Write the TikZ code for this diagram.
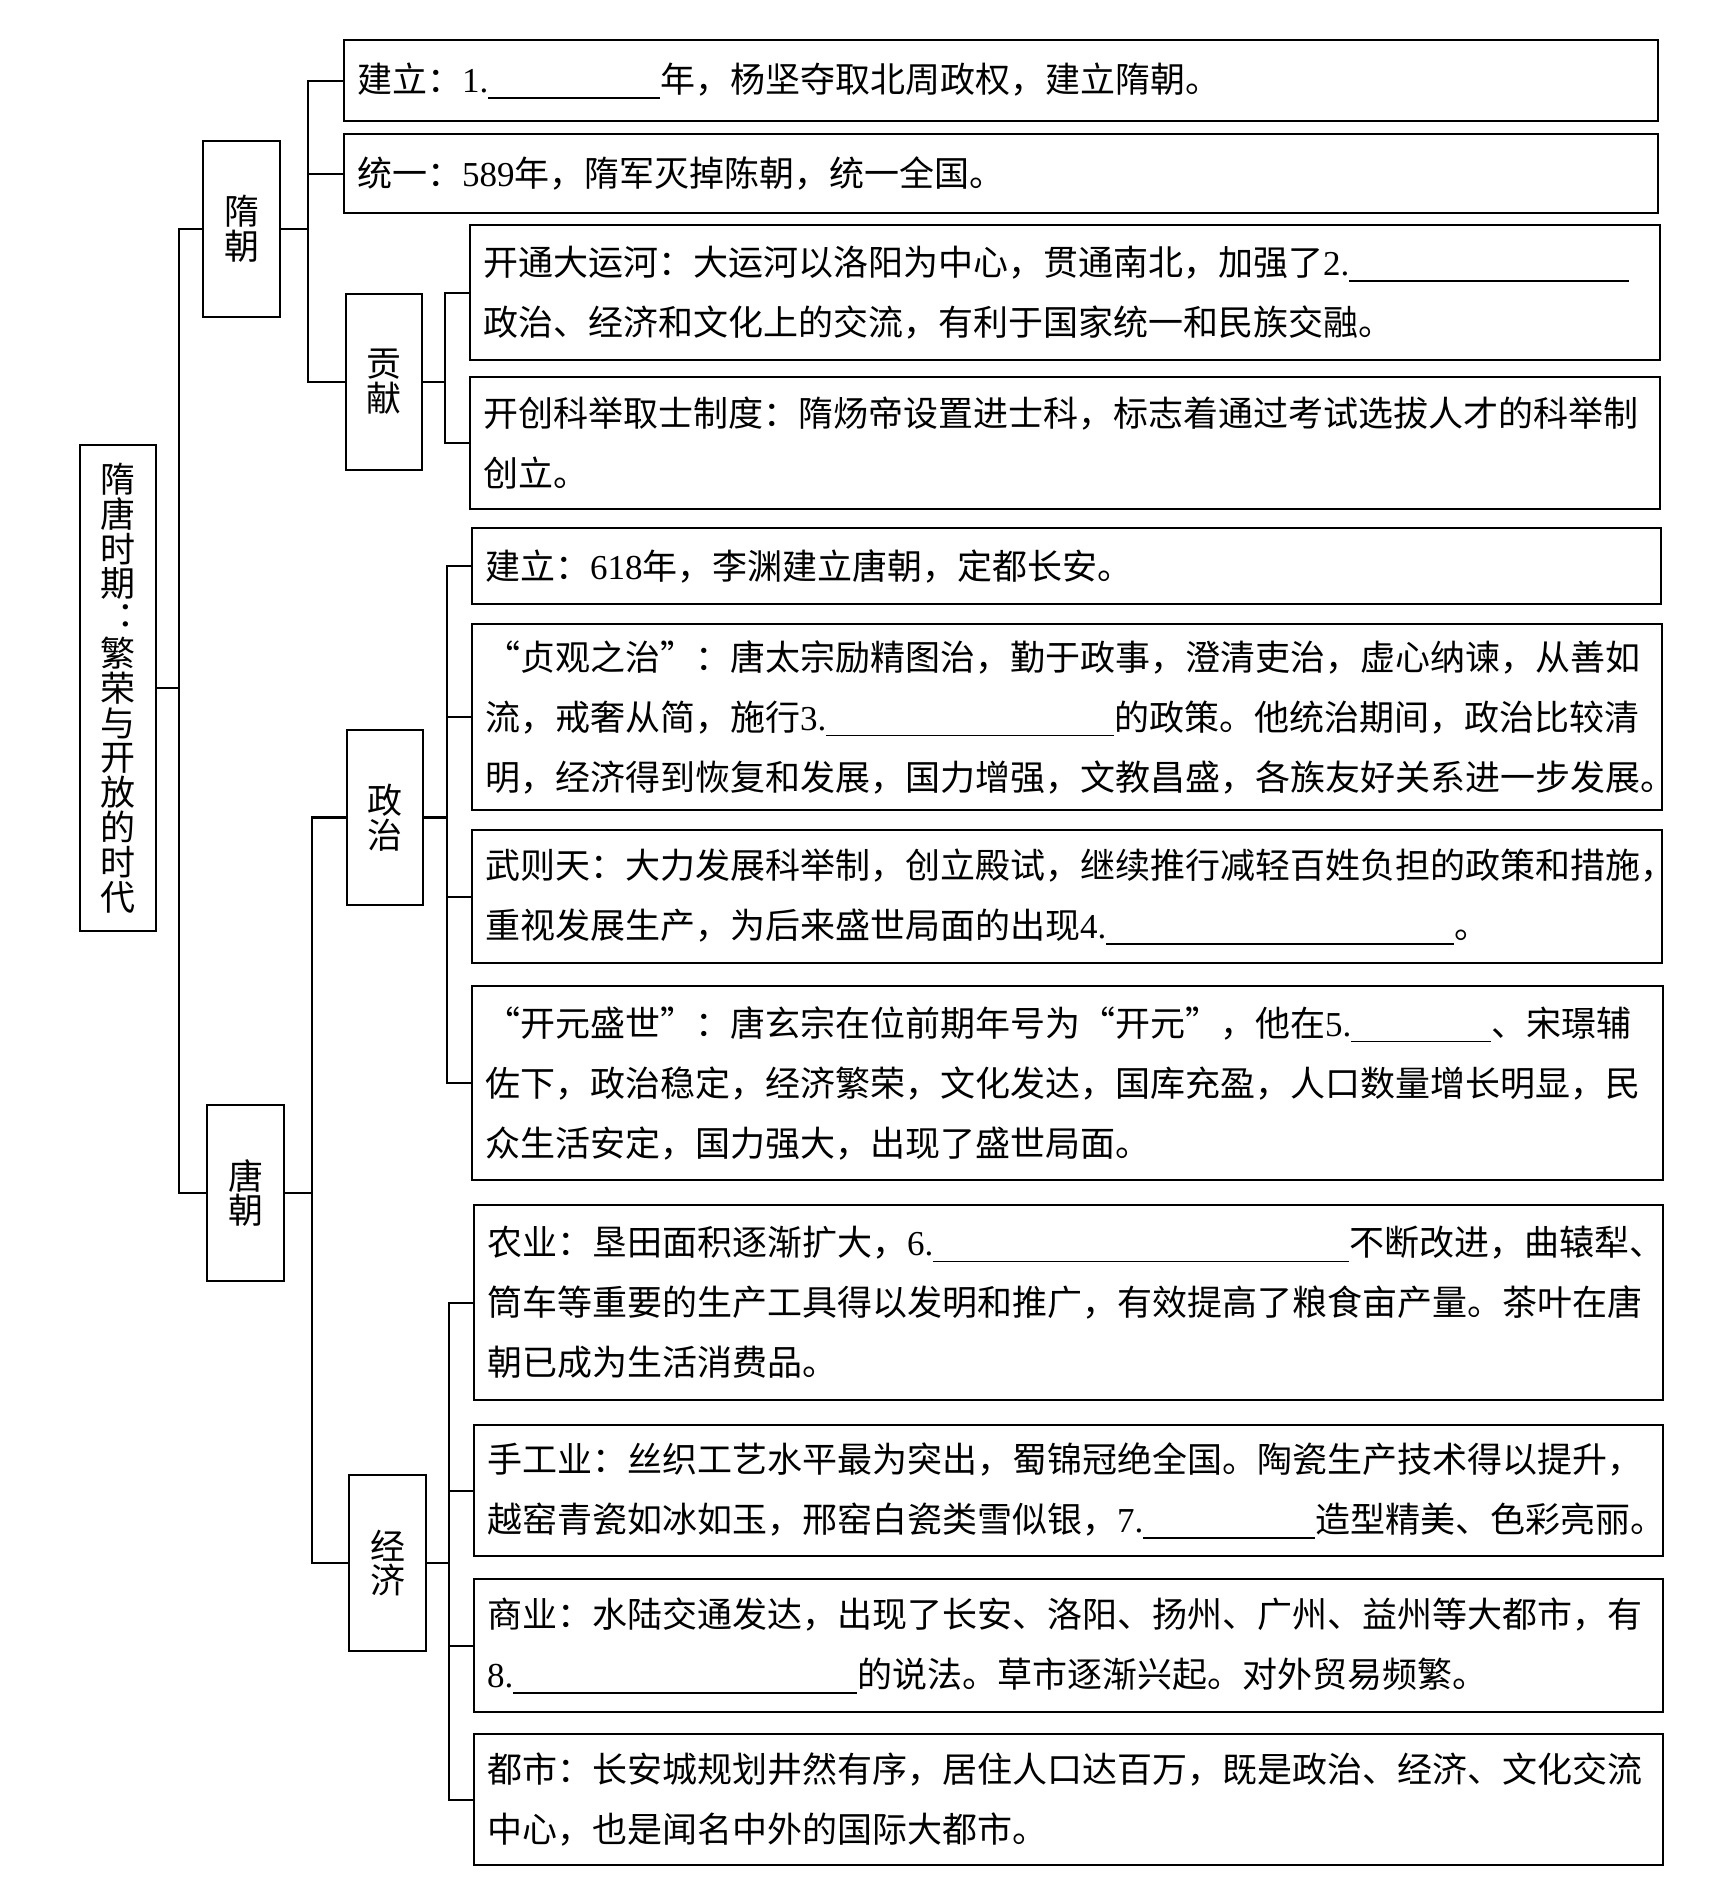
\documentclass[tikz,border=0pt]{standalone}
\usepackage{fontspec}
\newfontfamily\cjk{Noto Sans CJK SC}
\newfontfamily\latf{Liberation Serif}
\newcommand\dg[1]{{\latf #1}}
\newcommand\blank[1]{\rule[-3pt]{#1}{0.7pt}}
\begin{document}
\begin{tikzpicture}[x=0.5pt,y=-0.5pt,
  box/.style={draw, line width=1.2pt, rectangle, inner sep=0pt, align=center,
    font=\cjk\fontsize{17.5}{17.4}\selectfont},
  leaf/.style={draw, line width=1.2pt, rectangle, anchor=north west, inner xsep=6.5pt,
    inner ysep=0pt, align=left, font=\cjk\fontsize{17.5}{30}\selectfont},
  link/.style={line width=1.1pt}]
\useasboundingbox[fill=white] (0,0) rectangle (1713,1895);

% main boxes
\node[box, minimum width=38pt, minimum height=243pt] (root) at (118,688)
  {隋\\唐\\时\\期\\︓\\繁\\荣\\与\\开\\放\\的\\时\\代};
\node[box, minimum width=38.5pt, minimum height=88pt] (sui) at (241.5,229) {隋\\朝};
\node[box, minimum width=38.5pt, minimum height=88pt] (tang) at (245.5,1193) {唐\\朝};
\node[box, minimum width=38pt, minimum height=88pt] (gx) at (384,382) {贡\\献};
\node[box, minimum width=38pt, minimum height=87.5pt] (zz) at (385,817.5) {政\\治};
\node[box, minimum width=38.5pt, minimum height=88pt] (jj) at (387.5,1563) {经\\济};

% leaves
\node[leaf, minimum width=657pt, minimum height=40.5pt, text width=644pt] (b1) at (343,39)
  {建立：\dg{1.}\blank{86pt}年，杨坚夺取北周政权，建立隋朝。};
\node[leaf, minimum width=657pt, minimum height=39.5pt, text width=644pt] (b2) at (343,133)
  {统一：\dg{589}年，隋军灭掉陈朝，统一全国。};
\node[leaf, minimum width=595pt, minimum height=67.5pt, text width=582pt] (b3) at (469,224)
  {开通大运河：大运河以洛阳为中心，贯通南北，加强了\dg{2.}\blank{140pt}\\
   政治、经济和文化上的交流，有利于国家统一和民族交融。};
\node[leaf, minimum width=595pt, minimum height=66pt, text width=582pt] (b4) at (469,376)
  {开创科举取士制度：隋炀帝设置进士科，标志着通过考试选拔人才的科举制\\创立。};
\node[leaf, minimum width=594.5pt, minimum height=38pt, text width=581.5pt] (b5) at (471,527)
  {建立：\dg{618}年，李渊建立唐朝，定都长安。};
\node[leaf, minimum width=595pt, minimum height=93pt, text width=582pt] (b6) at (471,623)
  {“贞观之治”：唐太宗励精图治，勤于政事，澄清吏治，虚心纳谏，从善如\\
   流，戒奢从简，施行\dg{3.}\blank{144pt}的政策。他统治期间，政治比较清\\
   明，经济得到恢复和发展，国力增强，文教昌盛，各族友好关系进一步发展。};
\node[leaf, minimum width=595pt, minimum height=66.5pt, text width=582pt] (b7) at (471,829)
  {武则天：大力发展科举制，创立殿试，继续推行减轻百姓负担的政策和措施，\\
   重视发展生产，为后来盛世局面的出现\dg{4.}\blank{174pt}。};
\node[leaf, minimum width=595.5pt, minimum height=97pt, text width=582.5pt] (b8) at (471,985)
  {“开元盛世”：唐玄宗在位前期年号为“开元”，他在\dg{5.}\blank{70pt}、宋璟辅\\
   佐下，政治稳定，经济繁荣，文化发达，国库充盈，人口数量增长明显，民\\
   众生活安定，国力强大，出现了盛世局面。};
\node[leaf, minimum width=594.5pt, minimum height=97.5pt, text width=581.5pt] (b9) at (473,1204)
  {农业：垦田面积逐渐扩大，\dg{6.}\blank{208pt}不断改进，曲辕犁、\\
   筒车等重要的生产工具得以发明和推广，有效提高了粮食亩产量。茶叶在唐\\
   朝已成为生活消费品。};
\node[leaf, minimum width=594.5pt, minimum height=65.5pt, text width=581.5pt] (b10) at (473,1424)
  {手工业：丝织工艺水平最为突出，蜀锦冠绝全国。陶瓷生产技术得以提升，\\
   越窑青瓷如冰如玉，邢窑白瓷类雪似银，\dg{7.}\blank{86pt}造型精美、色彩亮丽。};
\node[leaf, minimum width=594.5pt, minimum height=66.5pt, text width=581.5pt] (b11) at (473,1578)
  {商业：水陆交通发达，出现了长安、洛阳、扬州、广州、益州等大都市，有\\
   \dg{8.}\blank{172pt}的说法。草市逐渐兴起。对外贸易频繁。};
\node[leaf, minimum width=594.5pt, minimum height=65.5pt, text width=581.5pt] (b12) at (473,1733)
  {都市：长安城规划井然有序，居住人口达百万，既是政治、经济、文化交流\\
   中心，也是闻名中外的国际大都市。};

% trunk x positions
\coordinate (t0) at (179,0);
\coordinate (t1) at (308,0);
\coordinate (t2) at (445,0);
\coordinate (t3) at (312,0);
\coordinate (t4) at (447,0);
\coordinate (t5) at (449,0);

% root
\draw[link] (root.east) -- (root.east -| t0);
\draw[link] (sui.west) -- (sui.west -| t0) -- (tang.west -| t0) -- (tang.west);
% sui
\draw[link] (sui.east) -- (sui.east -| t1);
\draw[link] (b1.west) -- (b1.west -| t1) -- (gx.west -| t1) -- (gx.west);
\draw[link] (b2.west) -- (b2.west -| t1);
% gongxian
\draw[link] (gx.east) -- (gx.east -| t2);
\draw[link] (b3.west) -- (b3.west -| t2) -- (b4.west -| t2) -- (b4.west);
% tang
\draw[link] (tang.east) -- (tang.east -| t3);
\draw[link] (zz.west) -- (zz.west -| t3) -- (jj.west -| t3) -- (jj.west);
% zhengzhi
\draw[link] (zz.east) -- (zz.east -| t4);
\draw[link] (b5.west) -- (b5.west -| t4) -- (b8.west -| t4) -- (b8.west);
\draw[link] (b6.west) -- (b6.west -| t4);
\draw[link] (b7.west) -- (b7.west -| t4);
% jingji
\draw[link] (jj.east) -- (jj.east -| t5);
\draw[link] (b9.west) -- (b9.west -| t5) -- (b12.west -| t5) -- (b12.west);
\draw[link] (b10.west) -- (b10.west -| t5);
\draw[link] (b11.west) -- (b11.west -| t5);
\end{tikzpicture}
\end{document}
